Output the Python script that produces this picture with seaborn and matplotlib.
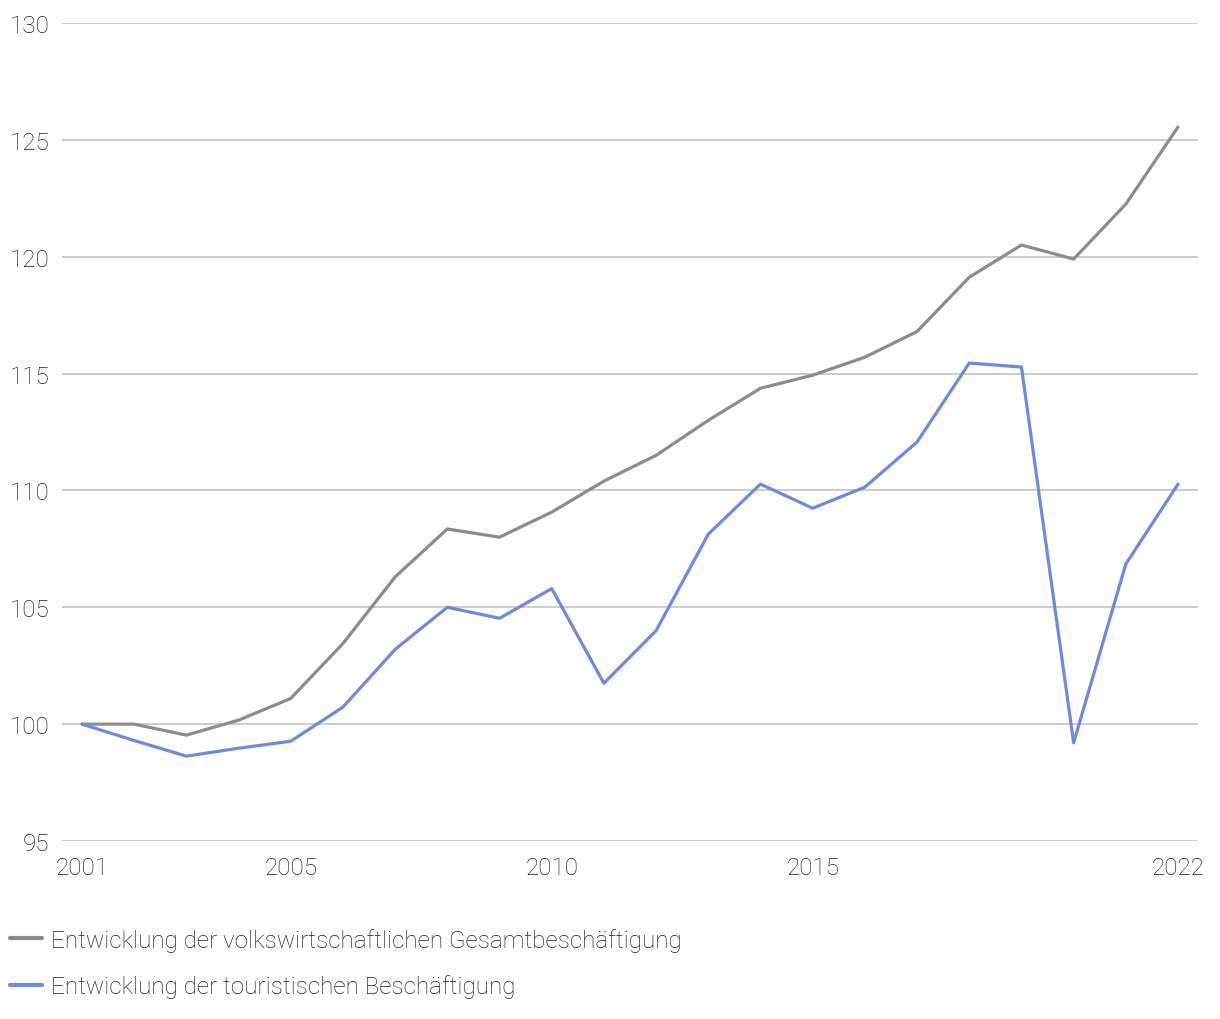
import matplotlib
matplotlib.use("Agg")
import matplotlib.pyplot as plt
import seaborn as sns
import pandas as pd

years = list(range(2001, 2023))
gesamt = [100.0, 100.0, 99.53, 100.17, 101.1, 103.45, 106.3, 108.35, 108.0, 109.07,
          110.4, 111.5, 113.0, 114.37, 114.93, 115.7, 116.8, 119.12, 120.5, 119.9,
          122.25, 125.55]
tourist = [100.0, 99.3, 98.63, 98.97, 99.27, 100.73, 103.2, 105.0, 104.53, 105.8,
           101.75, 104.0, 108.13, 110.27, 109.24, 110.14, 112.07, 115.45, 115.28, 99.2,
           106.85, 110.27]
labels = ["Entwicklung der volkswirtschaftlichen Gesamtbeschäftigung",
          "Entwicklung der touristischen Beschäftigung"]
yticks = [95, 100, 105, 110, 115, 120, 125, 130]
xticks = [2001, 2005, 2010, 2015, 2022]

df = pd.DataFrame({
    "Jahr": years * 2,
    "Wert": gesamt + tourist,
    "Serie": [labels[0]] * len(years) + [labels[1]] * len(years),
})

sns.set_theme(style="white")
plt.rcParams["font.family"] = ["Roboto", "DejaVu Sans"]

fig = plt.figure(figsize=(12.2, 10.2), dpi=100)
ax = fig.add_axes([62 / 1220, 1 - 842 / 1020, (1198 - 62) / 1220, (842 - 24) / 1020])

palette = {labels[0]: "#8c8c8c", labels[1]: "#6f8bd8"}
sns.lineplot(data=df, x="Jahr", y="Wert", hue="Serie", palette=palette,
             linewidth=2.3, ax=ax, legend=False)

ax.set_xlim(2001 - 0.383, 2022 + 0.383)
ax.set_ylim(95, 130)
ax.set_yticks(yticks)
ax.set_xticks(xticks)
ax.set_yticklabels([str(v) for v in yticks], fontsize=17.5, color="#1e1e1e", fontweight="light")
ax.set_xticklabels([str(v) for v in xticks], fontsize=17.5, color="#1e1e1e", fontweight="light")
ax.tick_params(axis="y", length=0, pad=9)
ax.tick_params(axis="x", length=0, pad=11)
ax.grid(axis="y", color="#cccccc", linewidth=1.4)
ax.grid(axis="x", visible=False)
for s in ax.spines.values():
    s.set_visible(False)
ax.set_xlabel("")
ax.set_ylabel("")
ax.set_axisbelow(True)

from matplotlib.lines import Line2D
handles = [Line2D([0], [0], color=palette[l], linewidth=3) for l in labels]
leg = fig.legend(handles, labels, loc="upper left", bbox_to_anchor=(0.008, 1 - 929 / 1020),
                 frameon=False, fontsize=17.5, handlelength=1.32, handletextpad=0.37,
                 labelspacing=0.93, borderaxespad=0, borderpad=0.0)
for t in leg.get_texts():
    t.set_color("#1e1e1e")
    t.set_fontweight("light")

fig.savefig("out.png", dpi=100)
